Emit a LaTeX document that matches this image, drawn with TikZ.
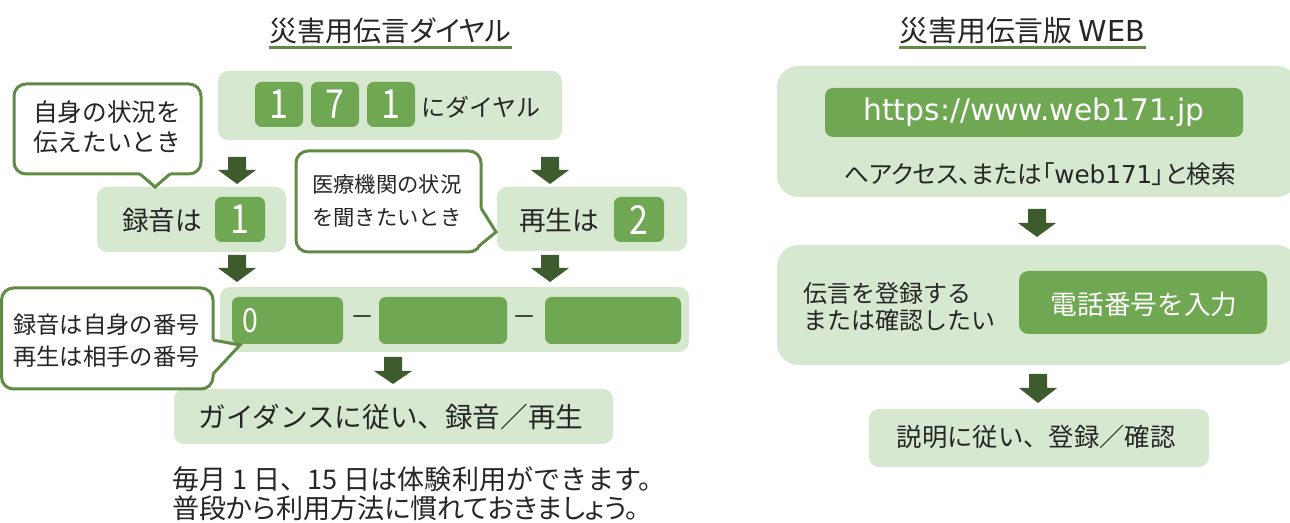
\documentclass[tikz,border=0pt]{standalone}
\usepackage{fontspec}
\setmainfont{Noto Sans CJK JP}
\newfontfamily\latinfont{DejaVu Sans}
\newfontfamily\digitfont{Noto Sans CJK JP}[FakeStretch=0.85]
\newfontfamily\paltfont{Noto Sans CJK JP}[RawFeature=+palt]
\usetikzlibrary{fit}
\definecolor{lightg}{HTML}{D6E8CF}
\definecolor{midg}{HTML}{70A752}
\definecolor{arrowcol}{HTML}{3E5B2D}
\definecolor{lineg}{HTML}{5F8B46}
\definecolor{txt}{HTML}{262626}
\newcommand\fsz[2]{\fontsize{#1pt}{#2pt}\selectfont}
\newcommand\blockarrow[4]{\fill[arrowcol] ({#1-9},#2) -- ({#1+9},#2) -- ({#1+9},#3) -- ({#1+19},#3) -- (#1,#4) -- ({#1-19},#3) -- ({#1-9},#3) -- cycle;}
\begin{document}
\begin{tikzpicture}[x=0.75pt,y=-0.75pt,
  lightbox/.style={fill=lightg, rounded corners=7.5pt, inner sep=0pt},
  bigbox/.style={fill=lightg, rounded corners=16pt, inner sep=0pt},
  greenbox/.style={fill=midg, rounded corners=5pt, inner sep=0pt},
  lbl/.style={text=txt, inner sep=0pt},
  wlbl/.style={text=white, inner sep=0pt},
  bigdigit/.style={wlbl, font=\digitfont\fsz{30}{30}},
  callout/.style={draw=lineg, line width=2.25pt, fill=white, rounded corners=9pt},
  tailedge/.style={draw=lineg, line width=2.25pt, line join=miter},
]
\useasboundingbox (0,0) rectangle (1290,523);
\clip (0,0) rectangle (1290,523);

% ---------- titles ----------
\coordinate (ul) at (0,48);
\node[lbl, font=\paltfont\fsz{21}{24}] (title1) at (390.5,31) {災害用伝言ダイヤル};
\draw[lineg, line width=2.25pt] (title1.west |- ul) -- (title1.east |- ul);
\node[lbl, font=\fsz{21.6}{24}] (title2) at (1022.5,31) {災害用伝言版 {\latinfont WEB}};
\draw[lineg, line width=2.25pt] (title2.west |- ul) -- (title2.east |- ul);

% ---------- left: dial ----------
\node[lightbox, fit={(218,71)(562,140)}] (topbox) {};
\node[greenbox, fit={(255,82)(303,127)}] (d1) {};
\node[greenbox, fit={(311,82)(359,127)}] (d2) {};
\node[greenbox, fit={(367,82)(415,127)}] (d3) {};
\node[bigdigit] (d1t) at (d1.center) {1};
\node[bigdigit] (d2t) at (d2.center) {7};
\node[bigdigit] (d3t) at (d3.center) {1};
\node[lbl, font=\fsz{18}{20}] (dial) at (481,107) {にダイヤル};

\blockarrow{237}{157}{170}{184}
\blockarrow{550}{157}{170}{184}

\node[lightbox, fit={(97,187)(286,252)}] (recbox) {};
\node[lbl, font=\fsz{20}{22}] (rectext) at (162,220) {録音は};
\node[greenbox, fit={(215,197)(265,242)}] (k1) {};
\node[bigdigit] (k1t) at (k1.center) {1};

\node[lightbox, fit={(497,187)(687,251)}] (playbox) {};
\node[lbl, font=\fsz{20}{22}] (playtext) at (559,220) {再生は};
\node[greenbox, fit={(614,197)(664,242)}] (k2) {};
\node[bigdigit] (k2t) at (k2.center) {2};

\blockarrow{237}{255}{268}{282}
\blockarrow{550}{255}{268}{282}

\node[lightbox, fit={(220,287)(689,352)}] (numbox) {};
\node[greenbox, fit={(232,297)(343,344)}] (n1) {};
\node[greenbox, fit={(379,297)(507,344)}] (n2) {};
\node[greenbox, fit={(545,297)(681,344)}] (n3) {};
\node[wlbl, font=\digitfont\fsz{25}{26}] (zero) at (250,320.5) {0};
\node[lbl, font=\fsz{18}{20}] (dash1) at (362,321) {－};
\node[lbl, font=\fsz{18}{20}] (dash2) at (524,321) {－};

\blockarrow{393}{357}{371}{384}

\node[lightbox, fit={(174,389)(613,444)}] (guidebox) {};
\node[lbl, font=\fsz{20.7}{22}] (guidetext) at (391,417) {ガイダンスに従い、録音／再生};

\node[lbl, anchor=west, align=left, font=\fsz{20.3}{21.75}] (note) at (172,493.5) {毎月 1 日、15 日は体験利用ができます。\\{\paltfont 普段から利用方法に慣れておきましょう。}};

% ---------- right: web ----------
\node[bigbox, fit={(777,66)(1298,197)}] (web1) {};
\node[greenbox, rounded corners=6pt, fit={(825,88)(1243,137)}] (url) {};
\node[wlbl, font=\latinfont\fsz{22.3}{24}] (urltext) at (1034,112.5) {https://www.web171.jp};
\node[lbl, font=\paltfont\fsz{18.5}{20}] (access) at (1040,174) {へアクセス、または「{\latinfont web171}」と検索};

\blockarrow{1037}{209}{223}{237}

\node[bigbox, fit={(777,245)(1298,365)}] (web2) {};
\node[lbl, anchor=west, align=left, font=\fsz{18}{20.25}] (regtext) at (803,307) {伝言を登録する\\または確認したい};
\node[greenbox, rounded corners=7pt, fit={(1019,271)(1267,334)}] (phone) {};
\node[wlbl, font=\fsz{20}{22}] (phonetext) at (1144,304) {電話番号を入力};

\blockarrow{1038}{374}{388}{403}

\node[lightbox, fit={(869,409)(1209,467)}] (web3) {};
\node[lbl, font=\fsz{19}{21}] (web3text) at (1036,437) {説明に従い、登録／確認};

% ---------- callouts ----------
\draw[callout] (14,84) rectangle (201,174);
\fill[white] (140,170) -- (140,174) -- (155,187) -- (170,174) -- (170,170) -- cycle;
\draw[tailedge] (140,174) -- (155,187) -- (170,174);
\node[lbl, anchor=west, align=left, font=\fsz{18.5}{22.5}] (c1) at (33,127) {自身の状況を\\伝えたいとき};

\draw[callout] (296,151) rectangle (481,252);
\fill[white] (476,208) -- (481,208) -- (496,232) -- (479,246) -- (474,240) -- cycle;
\draw[tailedge] (481,208) -- (496,232) -- (479,246);
\node[lbl, anchor=west, align=left, font=\fsz{16}{24.75}] (c2) at (312,200.5) {医療機関の状況\\を聞きたいとき};

\draw[callout] (1.5,288) rectangle (213,389);
\fill[white] (209,340) -- (213,340) -- (240,345) -- (213,374) -- (209,374) -- cycle;
\draw[tailedge] (213,340) -- (240,345) -- (213,374);
\node[lbl, anchor=west, align=left, font=\fsz{17.5}{24}] (c3) at (13,341) {録音は自身の番号\\再生は相手の番号};
\end{tikzpicture}
\end{document}
